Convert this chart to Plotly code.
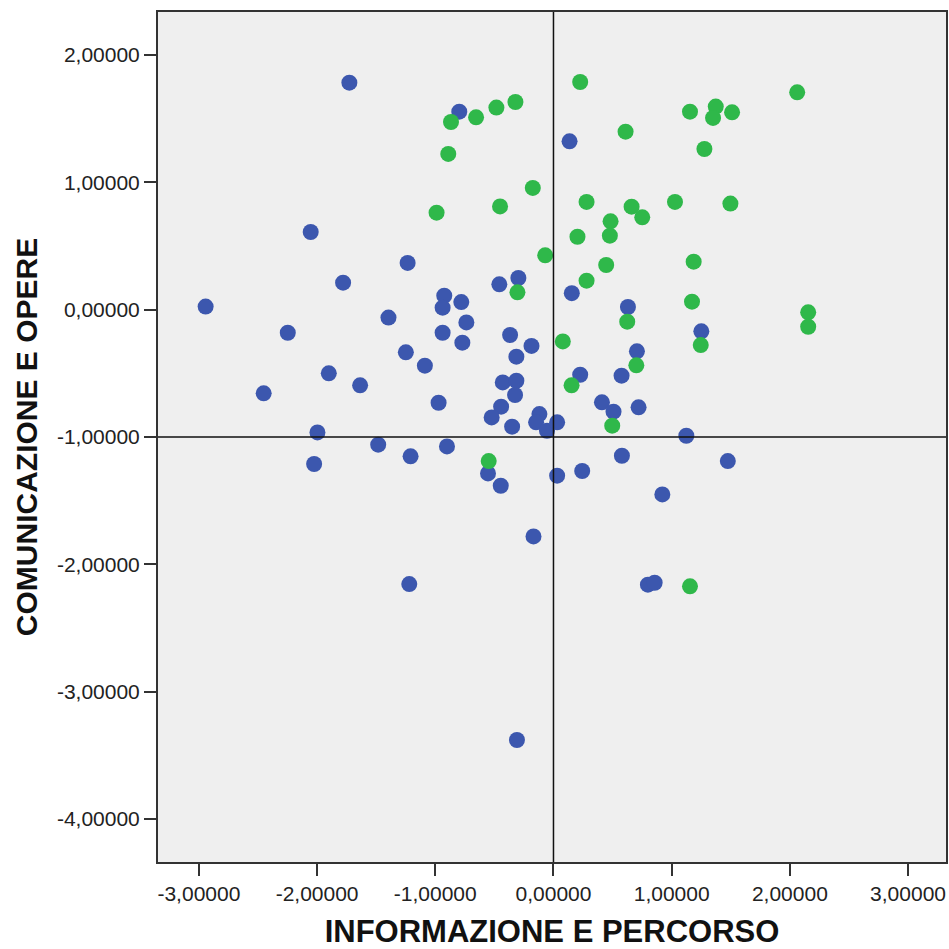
import plotly.graph_objects as go

# Blue group
blue_x = [-1.727, -0.797, 0.136, -2.054, -1.234, -1.780, -0.458, -0.297, -2.943, -0.924,
          -0.938, -0.780, -1.396, -0.737, -2.248, -0.938, -0.367, -0.186, -0.771, -0.314,
          -1.249, -1.088, -1.901, -1.636, -2.452, -0.429, -0.314, -0.325, -0.972, -0.443,
          -0.523, -0.350, -0.119, -0.147, -0.055, 0.031, -1.997, -1.483, -1.209, -0.901,
          -2.025, -0.554, -0.446, -0.169, -1.220, -0.309, 0.155, 0.630, 1.251, 0.706,
          0.226, 0.576, 0.410, 0.508, 0.720, 1.124, 0.579, 1.475, 0.243, 0.031,
          0.921, 0.799, 0.856]
blue_y = [1.783, 1.555, 1.322, 0.610, 0.367, 0.212, 0.199, 0.249, 0.024, 0.110,
          0.016, 0.060, -0.062, -0.100, -0.181, -0.181, -0.199, -0.285, -0.259, -0.369,
          -0.335, -0.440, -0.500, -0.594, -0.657, -0.571, -0.558, -0.670, -0.731, -0.762,
          -0.846, -0.919, -0.820, -0.885, -0.951, -0.885, -0.964, -1.060, -1.152, -1.074,
          -1.212, -1.286, -1.383, -1.781, -2.155, -3.380, 0.130, 0.021, -0.170, -0.327,
          -0.511, -0.518, -0.728, -0.801, -0.767, -0.990, -1.147, -1.189, -1.267, -1.304,
          -1.451, -2.160, -2.145]

# Green group
green_x = [-0.867, -0.655, -0.483, -0.322, -0.890, -0.175, -0.989, -0.452, -0.070, -0.305,
           -0.548, 0.226, 2.062, 1.155, 1.373, 1.350, 1.511, 0.610, 1.277, 0.280,
           1.028, 1.497, 0.661, 0.751, 0.483, 0.477, 0.203, 1.186, 0.446, 0.280,
           1.172, 0.624, 2.155, 2.155, 1.246, 0.079, 0.701, 0.153, 0.497, 1.155]
green_y = [1.474, 1.511, 1.587, 1.631, 1.223, 0.956, 0.762, 0.811, 0.427, 0.136,
           -1.189, 1.788, 1.707, 1.555, 1.595, 1.506, 1.550, 1.398, 1.262, 0.846,
           0.846, 0.833, 0.809, 0.725, 0.694, 0.581, 0.573, 0.377, 0.351, 0.228,
           0.063, -0.094, -0.021, -0.134, -0.278, -0.249, -0.437, -0.594, -0.911, -2.173]

x_ticks = [-3, -2, -1, 0, 1, 2, 3]
y_ticks = [2, 1, 0, -1, -2, -3, -4]
ref_x = 0
ref_y = -1

def fmt(v):
    return f"{v:.5f}".replace(".", ",")

FONT = "Liberation Sans, Arial, sans-serif"

fig = go.Figure()
fig.add_trace(go.Scatter(x=blue_x, y=blue_y, mode="markers",
                         marker=dict(color="#3C57AE", size=16, line=dict(width=0)),
                         showlegend=False))
fig.add_trace(go.Scatter(x=green_x, y=green_y, mode="markers",
                         marker=dict(color="#2FB84A", size=16, line=dict(width=0)),
                         showlegend=False))

fig.add_shape(type="line", xref="x", yref="paper", x0=ref_x, x1=ref_x, y0=0, y1=1,
              line=dict(color="#111111", width=1.5))
fig.add_shape(type="line", xref="paper", yref="y", x0=0, x1=1, y0=ref_y, y1=ref_y,
              line=dict(color="#111111", width=1.5))

fig.update_layout(
    width=949, height=949,
    margin=dict(l=158, r=3, t=12, b=87),
    paper_bgcolor="white",
    plot_bgcolor="#EFEFEF",
    font=dict(family=FONT, color="#222222"),
    xaxis=dict(range=[-3.346, 3.321], tickvals=x_ticks, ticktext=[fmt(v) for v in x_ticks],
               automargin=False,
               showgrid=False, zeroline=False, showline=True, linecolor="#333333", linewidth=2,
               mirror=True, ticks="outside", ticklen=12, tickwidth=2, tickcolor="#333333",
               tickfont=dict(size=21, family=FONT, color="#222222"),
               title=dict(text="INFORMAZIONE E PERCORSO", standoff=31,
                          font=dict(size=31, family=FONT, color="#111111", weight="bold"))),
    yaxis=dict(range=[-4.338, 2.338], tickvals=y_ticks, ticktext=[fmt(v) for v in y_ticks],
               automargin=False,
               showgrid=False, zeroline=False, showline=True, linecolor="#333333", linewidth=2,
               mirror=True, ticks="outside", ticklen=12, tickwidth=2, tickcolor="#333333",
               tickfont=dict(size=21, family=FONT, color="#222222"),
               title=dict(text="COMUNICAZIONE E OPERE", standoff=10,
                          font=dict(size=30, family=FONT, color="#111111", weight="bold"))),
)

fig.write_html("out.html")
